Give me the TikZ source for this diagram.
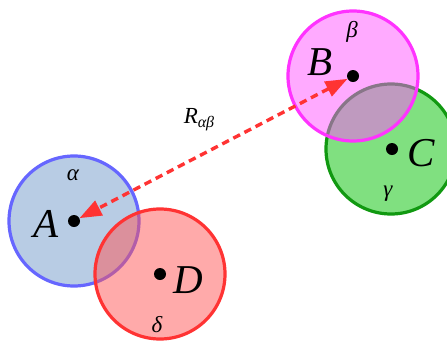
\documentclass[tikz,border=0pt]{standalone}
\usepackage{fontspec}
\setmainfont{Liberation Serif}
\usepackage{tikz}
\usepackage{xcolor}
\definecolor{afill}{HTML}{7199C9}
\definecolor{aline}{HTML}{6666FF}
\definecolor{bfill}{HTML}{FF55FF}
\definecolor{bline}{HTML}{FF33FF}
\definecolor{cfill}{HTML}{01C101}
\definecolor{cline}{HTML}{119911}
\definecolor{dfill}{HTML}{FF5555}
\definecolor{dline}{HTML}{FF3333}
\usetikzlibrary{arrows.meta}

\begin{document}
\begin{tikzpicture}[
        x=1pt, y=-1pt,
        region/.style = {line width=3.2pt, fill opacity=0.5},
        dot/.style    = {circle, fill=black, inner sep=0pt, minimum size=12pt},
        big/.style    = {font=\fontsize{41}{44}\selectfont\itshape, inner sep=0pt},
        small/.style  = {font=\fontsize{23}{26}\selectfont\itshape, inner sep=0pt},
        dist/.style   = {{Triangle[length=22pt,width=16pt]}-{Triangle[length=22pt,width=16pt]},
                         line width=3.4pt, dline, dash pattern=on 7.5pt off 5pt}
    ]
        \useasboundingbox (0,0) rectangle (447,341);
        \clip (0,0) rectangle (447,341);

        % ---- regions ----
        \draw[region, draw=aline, fill=afill] (74,221) circle[radius=65pt];
        \draw[region, draw=dline, fill=dfill] (160,274) circle[radius=65pt];
        \draw[region, draw=cline, fill=cfill] (391,149) circle[radius=65pt];
        \draw[region, draw=bline, fill=bfill] (353,76) circle[radius=65pt];

        % ---- centres ----
        \node[dot] (a) at (74,221) {};
        \node[dot] (b) at (353,76) {};
        \node[dot] (c) at (392,149) {};
        \node[dot] (d) at (160,274) {};

        % ---- labels ----
        \node[big] (la) at (46,224) {A};
        \node[big] (lb) at (320,62) {B};
        \node[big] (lc) at (421,153) {C};
        \node[big] (ld) at (188,280) {D};
        \node[small] (alpha) at (73,175) {α};
        \node[small] (beta)  at (352,32) {β};
        \node[small] (gamma) at (388,194) {γ};
        \node[small] (delta) at (157,325) {δ};

        % ---- distance ----
        \draw[dist] (b) -- (a);
        \node[small] (r) at (199,120) {R\raisebox{-0.35ex}{\fontsize{16}{18}\selectfont αβ}};
    \end{tikzpicture}
\end{document}
